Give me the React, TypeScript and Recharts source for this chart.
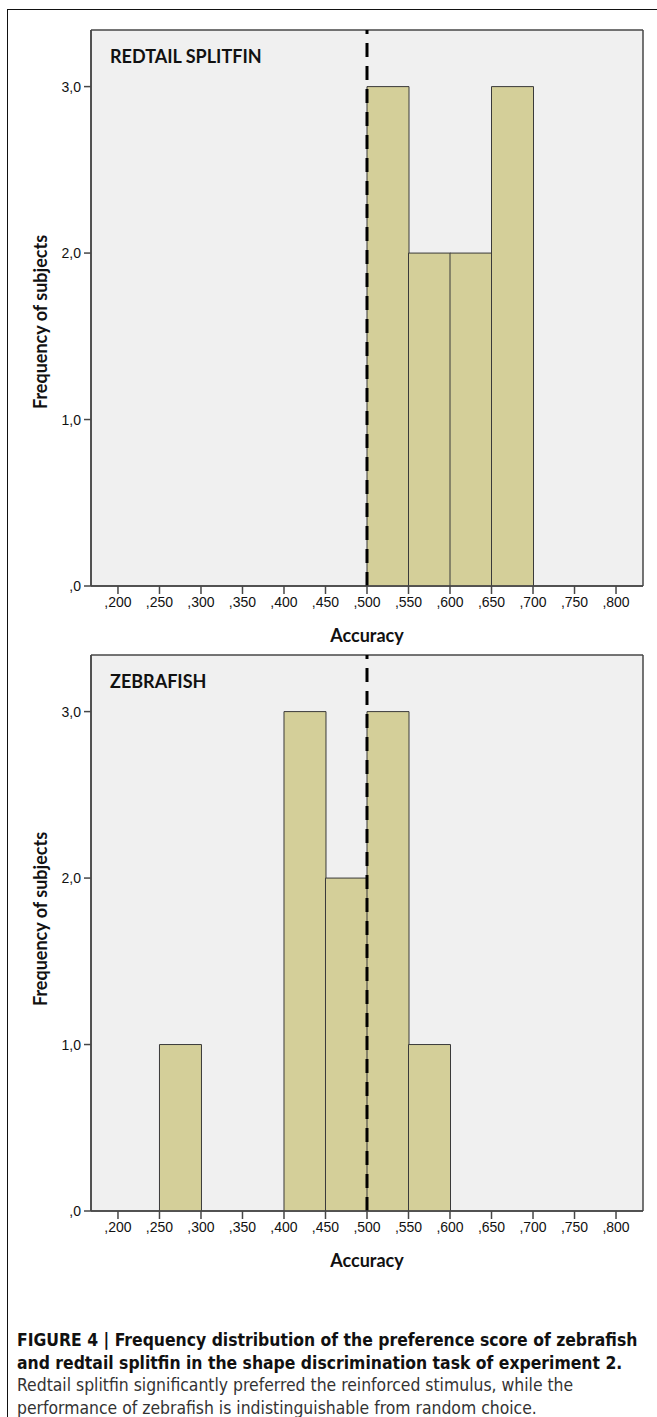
import React from "react";
import { BarChart, Bar, XAxis, YAxis, CartesianGrid, ReferenceLine, Label } from "recharts";

// histogram bins (centres of the 0.05-wide accuracy bins)
const binCenters = [0.225, 0.275, 0.325, 0.375, 0.425, 0.475, 0.525, 0.575, 0.625, 0.675, 0.725, 0.775];
const redtailCounts = [0, 0, 0, 0, 0, 0, 3, 2, 2, 3, 0, 0];
const zebrafishCounts = [0, 1, 0, 0, 3, 2, 3, 1, 0, 0, 0, 0];

const xTicks = [0.2, 0.25, 0.3, 0.35, 0.4, 0.45, 0.5, 0.55, 0.6, 0.65, 0.7, 0.75, 0.8];
const yTicks = [0, 1, 2, 3];
const chanceLevel = 0.5;

const X_DOMAIN: [number, number] = [0.1675, 0.8325];
const Y_DOMAIN: [number, number] = [0, 3.34];

const BORDER = "#474747";
const TICK_FONT = "'Liberation Sans', Arial, sans-serif";
const LABEL_FONT = "Lato, 'Open Sans', sans-serif";

const fmtX = (v: number) => v.toFixed(3).replace(/^0\./, ",");
const fmtY = (v: number) => (v === 0 ? ",0" : v.toFixed(1).replace(".", ","));

function Panel({
  title,
  counts,
  top,
  yLabelShift,
}: {
  title: string;
  counts: number[];
  top: number;
  yLabelShift: number;
}) {
  const data = binCenters.map((c, i) => ({ x: c, n: counts[i] }));
  const tickStyle = { fontFamily: TICK_FONT, fontSize: 14, fill: "#111" };

  return (
    <div style={{ position: "absolute", left: 0, top, width: 657, height: 646 }}>
      <BarChart
        width={657}
        height={646}
        data={data}
        margin={{ top: 30, right: 14, bottom: 0, left: 0 }}
        barCategoryGap={0}
        barGap={0}
      >
        {/* grey plot background + frame */}
        <CartesianGrid
          fill="#f0f0f0"
          stroke={BORDER}
          strokeWidth={1.5}
          horizontalCoordinatesGenerator={({ offset }: any) => [offset.top, offset.top + offset.height]}
          verticalCoordinatesGenerator={({ offset }: any) => [offset.left, offset.left + offset.width]}
        />
        <XAxis
          dataKey="x"
          type="number"
          domain={X_DOMAIN}
          allowDataOverflow
          ticks={xTicks}
          interval={0}
          tickFormatter={fmtX}
          tick={tickStyle}
          tickSize={8}
          tickMargin={3}
          height={60}
          stroke={BORDER}
          strokeWidth={1.5}
        >
          <Label
            value="Accuracy"
            position="insideBottom"
            offset={4}
            style={{ fontFamily: LABEL_FONT, fontWeight: 700, fontSize: 18, fill: "#111" }}
          />
        </XAxis>
        <YAxis
          type="number"
          domain={Y_DOMAIN}
          allowDataOverflow
          ticks={yTicks}
          interval={0}
          tickFormatter={fmtY}
          tick={tickStyle}
          tickSize={7}
          tickMargin={3}
          width={91}
          stroke={BORDER}
          strokeWidth={1.5}
        >
          <Label
            content={(props: any) => {
              const vb = props.viewBox || {};
              const cx = 40;
              const cy = (vb.y ?? 30) + (vb.height ?? 556) / 2 + yLabelShift;
              return (
                <text
                  x={cx}
                  y={cy}
                  transform={`rotate(-90, ${cx}, ${cy})`}
                  textAnchor="middle"
                  dominantBaseline="central"
                  style={{ fontFamily: LABEL_FONT, fontWeight: 700, fontSize: 18, fill: "#111" }}
                >
                  Frequency of subjects
                </text>
              );
            }}
          />
        </YAxis>
        <Bar dataKey="n" fill="#d4cf99" stroke="#3a3a3a" strokeWidth={1} isAnimationActive={false} />
        <ReferenceLine x={chanceLevel} stroke="#000" strokeWidth={3} strokeDasharray="14 9" />
      </BarChart>
      <div
        style={{
          position: "absolute",
          left: 110,
          top: 45,
          fontFamily: LABEL_FONT,
          fontWeight: 700,
          fontSize: 18,
          lineHeight: "22px",
          color: "#111",
          whiteSpace: "nowrap",
        }}
      >
        {title}
      </div>
    </div>
  );
}

export default function App() {
  return (
    <div
      style={{
        position: "absolute",
        left: 0,
        top: 0,
        width: 657,
        height: 1417,
        background: "#fff",
        overflow: "hidden",
      }}
    >
      <div
        style={{
          position: "absolute",
          left: 7,
          top: 9,
          width: 700,
          height: 1500,
          borderLeft: "1.5px solid #111",
          borderTop: "1.5px solid #111",
        }}
      />
      <Panel title="REDTAIL SPLITFIN" counts={redtailCounts} top={0} yLabelShift={14} />
      <Panel title="ZEBRAFISH" counts={zebrafishCounts} top={625} yLabelShift={-14} />
      <div
        style={{
          position: "absolute",
          left: 17,
          top: 1329,
          width: 640,
          fontFamily: "'Liberation Sans Narrow', 'DejaVu Sans Condensed', 'Roboto', sans-serif",
          fontSize: 17.4,
          lineHeight: "22.5px",
          color: "#111",
        }}
      >
        <div style={{ fontWeight: 700, whiteSpace: "nowrap" }}>
          FIGURE 4 | Frequency distribution of the preference score of zebrafish
        </div>
        <div style={{ fontWeight: 700, whiteSpace: "nowrap" }}>
          and redtail splitfin in the shape discrimination task of experiment 2.
        </div>
        <div style={{ color: "#333", whiteSpace: "nowrap" }}>
          Redtail splitfin significantly preferred the reinforced stimulus, while the
        </div>
        <div style={{ color: "#333", whiteSpace: "nowrap" }}>
          performance of zebrafish is indistinguishable from random choice.
        </div>
      </div>
    </div>
  );
}
